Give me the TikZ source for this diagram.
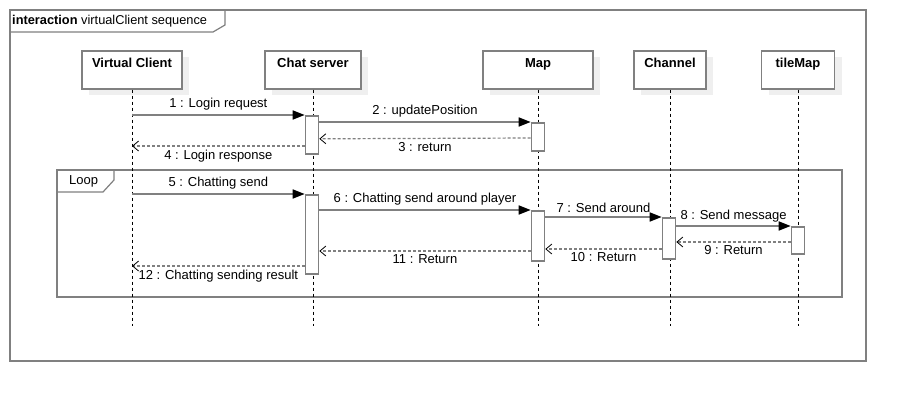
\documentclass[tikz,border=0pt]{standalone}
\usepackage{fontspec}
\setmainfont{Liberation Sans}
\usetikzlibrary{arrows.meta,calc}
\definecolor{lgray}{HTML}{808080}
\definecolor{shad}{HTML}{EFEFEF}
\tikzset{
  head/.style={draw=lgray,line width=1.6pt,fill=white,minimum height=38pt,inner sep=0pt,font=\fontsize{13}{15}\selectfont\bfseries,align=center,text height=17pt,text depth=21pt,anchor=north},
  act/.style={draw=lgray,line width=1.6pt,fill=white,minimum width=13pt,inner sep=0pt,anchor=north},
  life/.style={black,line width=0.6pt,dash pattern=on 3pt off 3pt},
  sync/.style={draw=lgray,line width=1.6pt,-{Triangle[length=12pt,width=9pt,fill=black,color=black]}},
  ret/.style={draw=lgray,line width=1.2pt,dash pattern=on 3pt off 2pt,-{Straight Barb[length=6pt,width=10pt,color=black,line width=0.8pt]}},
  lbl/.style={font=\fontsize{13}{15}\selectfont,inner sep=0pt},
  frm/.style={draw=lgray,line width=1.8pt},
}
\begin{document}
\begin{tikzpicture}[x=1pt,y=-1pt]
\useasboundingbox[fill=white] (0,0) rectangle (906,402);
% outer frame
\draw[frm] (10,10) rectangle (866,361);
\draw[frm,line width=1.2pt] (10,32) -- (213,32) -- (225,25) -- (225,10);
\node[anchor=west,inner sep=0pt,font=\fontsize{12.8}{14}\selectfont] (title) at (12,21) {\textbf{interaction} virtualClient sequence};
% loop frame
\draw[frm] (57,170) rectangle (842,297);
\draw[frm,line width=1.2pt] (57,192) -- (103,192) -- (114,180) -- (114,170);
\node[lbl,anchor=west] (loop) at (69,181) {Loop};
% shadows
\foreach \x/\w in {132/100,313/96,538/110,670/72,798/73}{
  \fill[shad] (\x-\w/2+7,57) rectangle (\x+\w/2+7,95);
}
% heads
\node[head,minimum width=100pt] (hVC) at (132,50) {Virtual Client};
\node[head,minimum width=96pt] (hCS) at (313,50) {Chat server};
\node[head,minimum width=110pt] (hMap) at (538,50) {Map};
\node[head,minimum width=72pt] (hCh) at (670,50) {Channel};
\node[head,minimum width=73pt] (hTM) at (798,50) {tileMap};
% lifeline ends
\coordinate (eVC) at (132,326);
\coordinate (eCS) at (313,326);
\coordinate (eMap) at (538,326);
\coordinate (eCh) at (670,326);
\coordinate (eTM) at (798,326);
\draw[life] (hVC.south) -- (eVC);
\draw[life] (hCS.south) -- (eCS);
\draw[life] (hMap.south) -- (eMap);
\draw[life] (hCh.south) -- (eCh);
\draw[life] (hTM.south) -- (eTM);
% activations
\node[act,minimum height=38pt] (a1) at (312,115) {};
\node[act,minimum height=28pt] (a2) at (538,122) {};
\node[act,minimum height=79pt] (a5) at (312,194) {};
\node[act,minimum height=50pt] (a6) at (538,210) {};
\node[act,minimum height=41pt] (a7) at (669,217) {};
\node[act,minimum height=27pt] (a8) at (798,226) {};
% messages
\draw[sync] (hVC.south |- a1.north west) -- node[lbl,above=4pt] {1 : Login request} (a1.north west);
\draw[sync] (a1.north east |- a2.north west) -- node[lbl,above=4pt] {2 : updatePosition} (a2.north west);
\draw[ret] ($(a2.north west)+(0,16)$) -- node[lbl,below=3pt] {3 : return} ($(a1.east)+(0,4)$);
\draw[ret] ($(a1.north west)+(0,31)$) -- node[lbl,below=3pt] {4 : Login response} (hVC.south |- {$(a1.north west)+(0,31)$});
\draw[sync] (hVC.south |- a5.north west) -- node[lbl,above=4pt] {5 : Chatting send} (a5.north west);
\draw[sync] (a5.north east |- a6.north west) -- node[lbl,above=4pt] {6 : Chatting send around player} (a6.north west);
\draw[sync] (a6.north east |- a7.north west) -- node[lbl,above=4pt] {7 : Send around} (a7.north west);
\draw[sync] (a7.north east |- a8.north west) -- node[lbl,above=3pt] {8 : Send message} (a8.north west);
\draw[ret] ($(a8.north west)+(0,16)$) -- node[lbl,below=3pt] {9 : Return} (a7.east |- {$(a8.north west)+(0,16)$});
\draw[ret] ($(a7.north west)+(0,32)$) -- node[lbl,below=3pt] {10 : Return} (a6.east |- {$(a7.north west)+(0,32)$});
\draw[ret] ($(a6.north west)+(0,41)$) -- node[lbl,below=3pt] {11 : Return} (a5.east |- {$(a6.north west)+(0,41)$});
\draw[ret] ($(a5.north west)+(0,72)$) -- node[lbl,below=3pt] {12 : Chatting sending result} (hVC.south |- {$(a5.north west)+(0,72)$});
\end{tikzpicture}
\end{document}
